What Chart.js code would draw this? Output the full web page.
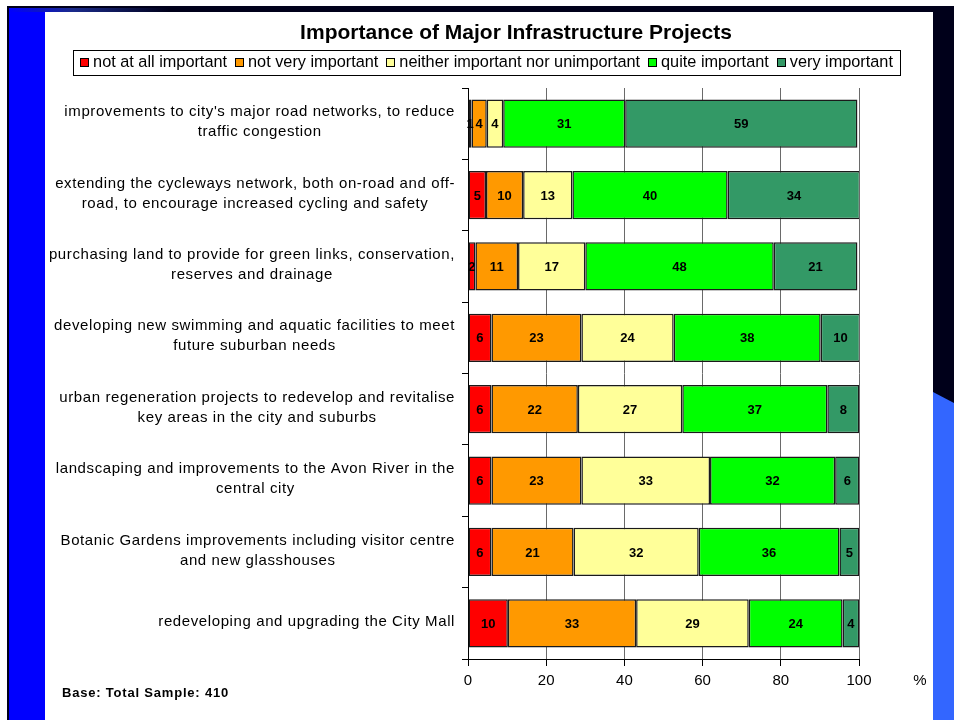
<!DOCTYPE html>
<html>
<head>
<meta charset="utf-8">
<title>Importance of Major Infrastructure Projects</title>
<script src="https://cdn.jsdelivr.net/npm/chart.js@4.4.1/dist/chart.umd.min.js"></script>
<style>
  html, body { margin: 0; padding: 0; background: #fff; }
  #stage { position: relative; width: 954px; height: 720px; overflow: hidden; }
  .frame { position: absolute; left: 7px; top: 6px; right: 0; bottom: 0; background: #00001a; }
  .side { position: absolute; left: 9px; top: 8px; width: 36px; bottom: 0; background: #0000ff; }
  .streak { position: absolute; left: 9px; top: 8px; width: 160px; height: 4px;
            background: linear-gradient(to right, #0000ff, #1a2a8a 40%, #00001a); }
  .corner { position: absolute; left: 933px; top: 392px; width: 21px; bottom: 0; background: #3366ff;
            clip-path: polygon(0 0, 100% 11px, 100% 100%, 0 100%); }
  .sheet { position: absolute; left: 45px; top: 12px; width: 888px; height: 708px; background: #fff; }
</style>
</head>
<body>
<div id="stage">
  <div class="frame"></div>
  <div class="side"></div>
  <div class="streak"></div>
  <div class="corner"></div>
  <div class="sheet"><canvas id="chart" width="888" height="708"></canvas></div>
</div>
<script>
'use strict';

var chartTitle = 'Importance of Major Infrastructure Projects';
var baseNote = 'Base: Total Sample: 410';

var categories = [
	['improvements to city\'s major road networks, to reduce', 'traffic congestion'],
	['extending the cycleways network, both on-road and off-', 'road, to encourage increased cycling and safety'],
	['purchasing land to provide for green links, conservation,', 'reserves and drainage'],
	['developing new swimming and aquatic facilities to meet', 'future suburban needs'],
	['urban regeneration projects to redevelop and revitalise', 'key areas in the city and suburbs'],
	['landscaping and improvements to the Avon River in the', 'central city'],
	['Botanic Gardens improvements including visitor centre', 'and new glasshouses'],
	['redeveloping and upgrading the City Mall']
];

var seriesNames = ['not at all important', 'not very important', 'neither important nor unimportant', 'quite important', 'very important'];
var seriesColours = ['#ff0000', '#ff9900', '#ffff99', '#00ff00', '#339966'];

// percentages per project, in category order
var notAtAll = [0.9, 4.6, 1.9, 6.0, 6.0, 6.0, 6.0, 10.2];
var notVery  = [3.9, 9.5, 10.9, 23.0, 22.1, 23.0, 21.0, 32.8];
var neither  = [4.2, 12.6, 17.2, 23.6, 26.7, 32.9, 32.0, 28.8];
var quite    = [31.2, 39.7, 48.2, 37.6, 37.1, 32.0, 36.0, 24.0];
var very     = [59.4, 33.9, 21.4, 10.1, 8.2, 6.2, 5.1, 4.3];

var xTicks = [0, 20, 40, 60, 80, 100];

var FONT = '"Liberation Sans", Arial, sans-serif';

var series = [notAtAll, notVery, neither, quite, very];

var annotate = {
	id: 'annotate',
	afterDraw: function (chart) {
		var ctx = chart.ctx;
		var yScale = chart.scales.y;
		var area = chart.chartArea;

		ctx.save();
		ctx.fillStyle = '#000';
		ctx.textBaseline = 'middle';

		// title
		ctx.font = 'bold 21px ' + FONT;
		ctx.textAlign = 'center';
		ctx.fillText(chartTitle, 471, 21);

		// legend in a box
		ctx.font = '16.3px ' + FONT;
		ctx.textAlign = 'left';
		var box = 9, gapText = 4, gapItem = 8, pad = 7;
		var total = 0;
		seriesNames.forEach(function (name, i) {
			total += box + gapText + ctx.measureText(name).width + (i ? gapItem : 0);
		});
		var left = 441.5 - total / 2;
		ctx.strokeStyle = '#000';
		ctx.lineWidth = 1;
		ctx.strokeRect(Math.round(left - pad) + 0.5, 38.5, Math.round(total + 2 * pad), 25);
		var x = left;
		seriesNames.forEach(function (name, i) {
			ctx.fillStyle = seriesColours[i];
			ctx.fillRect(Math.round(x), 46, box, box);
			ctx.strokeStyle = '#000';
			ctx.strokeRect(Math.round(x) + 0.5, 46.5, box - 1, box - 1);
			ctx.fillStyle = '#000';
			ctx.fillText(name, x + box + gapText, 51);
			x += box + gapText + ctx.measureText(name).width + gapItem;
		});

		// category labels: lines centred on each other, block against the axis
		ctx.font = '15px ' + FONT;
		ctx.letterSpacing = '0.6px';
		ctx.textAlign = 'center';
		categories.forEach(function (lines, i) {
			var cy = yScale.getPixelForValue(i) - 1.5;
			var w = 0;
			lines.forEach(function (l) { w = Math.max(w, ctx.measureText(l).width); });
			var cx = area.left - 13 - w / 2;
			lines.forEach(function (l, k) {
				ctx.fillText(l, cx, cy + (k - (lines.length - 1) / 2) * 20);
			});
		});
		ctx.letterSpacing = '0px';

		// value labels inside the segments
		ctx.font = 'bold 13px ' + FONT;
		chart.data.datasets.forEach(function (ds, d) {
			chart.getDatasetMeta(d).data.forEach(function (bar, i) {
				ctx.fillText(String(Math.round(ds.data[i])), (bar.x + bar.base) / 2, bar.y + 1);
			});
		});

		// unit and base note
		ctx.font = '15px ' + FONT;
		ctx.fillText('%', 875, 669);
		ctx.font = 'bold 13px ' + FONT;
		ctx.letterSpacing = '0.8px';
		ctx.textAlign = 'left';
		ctx.fillText(baseNote, 17, 681);
		ctx.letterSpacing = '0px';

		ctx.restore();
	}
};

var chart = new Chart(document.getElementById('chart'), {
	type: 'bar',
	data: {
		labels: categories,
		datasets: series.map(function (values, i) {
			return {
				label: seriesNames[i],
				data: values,
				backgroundColor: seriesColours[i],
				borderColor: '#1a1a1a',
				borderWidth: 1.5,
				borderSkipped: false,
				barPercentage: 0.677,
				categoryPercentage: 1
			};
		})
	},
	options: {
		indexAxis: 'y',
		responsive: false,
		animation: false,
		devicePixelRatio: 1,
		layout: { padding: { top: 76, right: 74, left: 0, bottom: 0 } },
		plugins: {
			legend: { display: false },
			title: { display: false },
			tooltip: { enabled: false }
		},
		scales: {
			x: {
				stacked: true,
				min: 0,
				max: 100,
				afterBuildTicks: function (scale) {
					scale.ticks = xTicks.map(function (v) { return { value: v }; });
				},
				afterFit: function (scale) { scale.height = 61; },
				grid: {
					color: function (c) { return c.tick && c.tick.value === 0 ? 'rgba(0,0,0,0)' : '#6a6a6a'; },
					tickColor: '#000',
					tickLength: 7
				},
				border: { display: true, color: '#000', width: 1 },
				ticks: {
					color: '#000',
					padding: 6,
					maxRotation: 0,
					font: { family: FONT, size: 15 }
				}
			},
			y: {
				stacked: true,
				afterFit: function (scale) { scale.width = 423; },
				grid: {
					offset: true,
					drawOnChartArea: false,
					color: '#000',
					tickLength: 6
				},
				border: { display: true, color: '#000', width: 1 },
				ticks: { display: false }
			}
		}
	},
	plugins: [annotate]
});
</script>
</body>
</html>
